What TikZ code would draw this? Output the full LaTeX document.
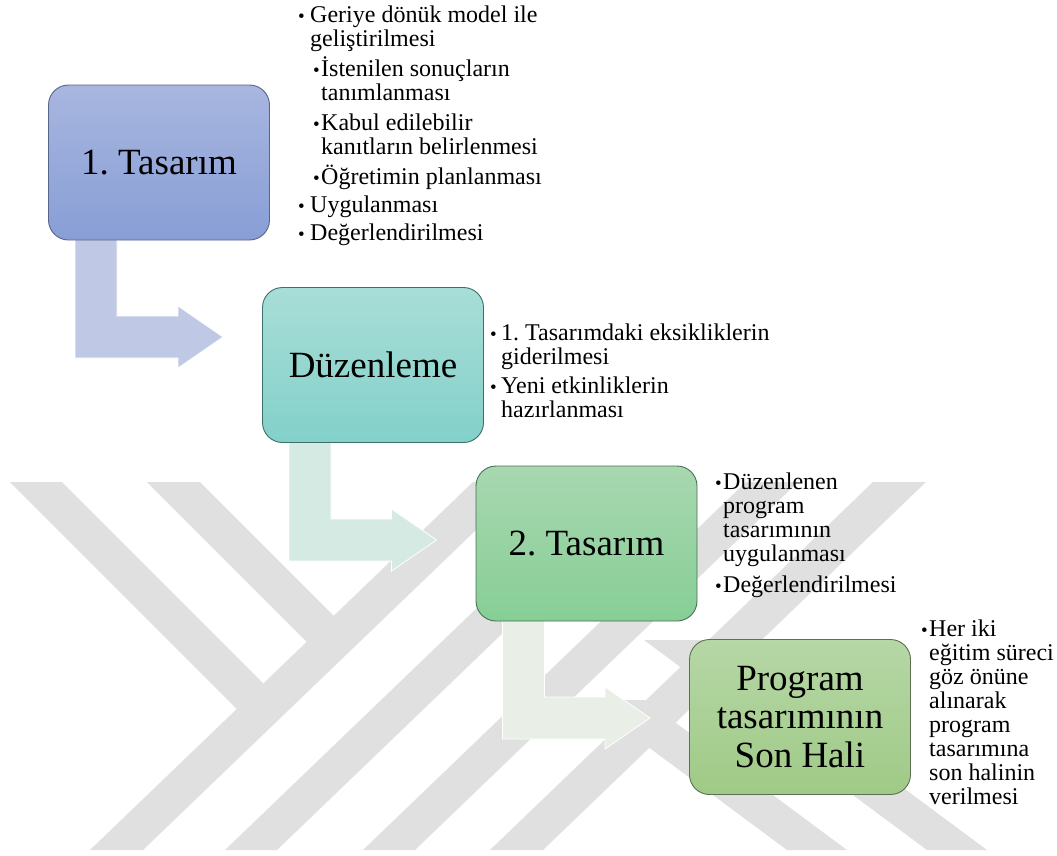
\documentclass[tikz,border=0pt]{standalone}
\usepackage{fontspec}
\setmainfont{Liberation Serif}
\usetikzlibrary{calc}

\definecolor{wmgray}{RGB}{224,224,224}
\definecolor{boxAtop}{RGB}{168,182,223}
\definecolor{boxAbot}{RGB}{136,158,214}
\definecolor{boxAline}{RGB}{88,102,140}
\definecolor{boxBtop}{RGB}{168,222,215}
\definecolor{boxBbot}{RGB}{131,208,202}
\definecolor{boxBline}{RGB}{62,112,106}
\definecolor{boxCtop}{RGB}{168,215,176}
\definecolor{boxCbot}{RGB}{135,206,150}
\definecolor{boxCline}{RGB}{72,112,82}
\definecolor{boxDtop}{RGB}{182,215,166}
\definecolor{boxDbot}{RGB}{160,202,135}
\definecolor{boxDline}{RGB}{92,112,82}
\definecolor{arrA}{RGB}{191,201,230}
\definecolor{arrB}{RGB}{213,234,227}
\definecolor{arrC}{RGB}{233,239,231}

\pgfdeclarelayer{wm}
\pgfdeclarelayer{arrows}
\pgfsetlayers{wm,arrows,main}

% bent block arrow from the bottom of one box to the left side of the next;
% #4 = vertical offset of the tip above the target centre
\newcommand{\flowarrow}[4]{%
  \filldraw[fill=#3, draw=white, line width=0.8pt]
    let \p1=(#1.south west), \p2=(#2.west) in
    ({\x1+27pt},{\y1+2pt}) -- ({\x1+69pt},{\y1+2pt})
    -- ({\x1+69pt},{\y2+(#4)+21pt}) -- ({\x2-84pt},{\y2+(#4)+21pt})
    -- ({\x2-84pt},{\y2+(#4)+31pt}) -- ({\x2-39pt},{\y2+(#4)})
    -- ({\x2-84pt},{\y2+(#4)-31pt}) -- ({\x2-84pt},{\y2+(#4)-21pt})
    -- ({\x1+27pt},{\y2+(#4)-21pt}) -- cycle;}

\begin{document}
\frenchspacing
\begin{tikzpicture}[x=1pt,y=-1pt,
  stepbox/.style={line width=0.9pt, rounded corners=20pt,
    minimum width=221pt, minimum height=155pt, inner sep=0pt,
    align=center, font=\fontsize{37}{38.5}\selectfont},
  % multi-line notes are placed by the baseline of their last line
  itemtext/.style={anchor=base west, inner sep=0pt, align=left,
    font=\fontsize{24}{24}\selectfont},
  bullet/.style={anchor=base west, inner sep=0pt,
    font=\fontsize{19}{19}\selectfont},
  wmstripe/.style={fill=wmgray}]

\useasboundingbox (0,0) rectangle (1057,855);

% faint striped emblem in the background
\begin{pgfonlayer}{wm}
\fill[white] (0,0) rectangle (1057,855);
\fill[wmstripe] (10,482) -- (62,482) -- (289,709) -- (237,709) -- cycle;
\fill[wmstripe] (147,482) -- (200,482) -- (360,642) -- (307,642) -- cycle;
\fill[wmstripe] (473,482) -- (526,482) -- (143,850) -- (90,850) -- cycle;
\fill[wmstripe] (608,482) -- (660,482) -- (277,850) -- (225,850) -- cycle;
\fill[wmstripe] (746,482) -- (798,482) -- (415,850) -- (363,850) -- cycle;
\fill[wmstripe] (873,482) -- (926,482) -- (543,850) -- (490,850) -- cycle;
\fill[wmstripe] (585,700) -- (645,700) -- (847,850) -- (787,850) -- cycle;
\fill[wmstripe] (644,640) -- (704,640) -- (987,850) -- (927,850) -- cycle;
\end{pgfonlayer}

% process steps
\node[stepbox, draw=boxAline, top color=boxAtop, bottom color=boxAbot]
  (b1) at (159,162.5) {1. Tasarım};
\node[stepbox, draw=boxBline, top color=boxBtop, bottom color=boxBbot]
  (b2) at (373,365) {Düzenleme};
\node[stepbox, draw=boxCline, top color=boxCtop, bottom color=boxCbot]
  (b3) at (586.5,543.5) {2. Tasarım};
\node[stepbox, draw=boxDline, top color=boxDtop, bottom color=boxDbot]
  (b4) at (800,717) {Program\\tasarımının\\Son Hali};

% connectors
\begin{pgfonlayer}{arrows}
\flowarrow{b1}{b2}{arrA}{28pt}
\flowarrow{b2}{b3}{arrB}{3.5pt}
\flowarrow{b3}{b4}{arrC}{-1pt}
\end{pgfonlayer}

% notes of step 1
\node[bullet] (t1b) at (298,22) {•};
\node[itemtext] (t1) at (310,46) {Geriye dönük model ile\\geliştirilmesi};
\node[bullet] (t2b) at (313,76) {•};
\node[itemtext] (t2) at (321,100) {İstenilen sonuçların\\tanımlanması};
\node[bullet] (t3b) at (313,130) {•};
\node[itemtext] (t3) at (321,154) {Kabul edilebilir\\kanıtların belirlenmesi};
\node[bullet] (t4b) at (313,184) {•};
\node[itemtext] (t4) at (321,184) {Öğretimin planlanması};
\node[bullet] (t5b) at (298,212) {•};
\node[itemtext] (t5) at (310,212) {Uygulanması};
\node[bullet] (t6b) at (298,240) {•};
\node[itemtext] (t6) at (310,240) {Değerlendirilmesi};

% notes of the revision step
\node[bullet] (d1b) at (490,340) {•};
\node[itemtext] (d1) at (501,364) {1. Tasarımdaki eksikliklerin\\giderilmesi};
\node[bullet] (d2b) at (490,393) {•};
\node[itemtext] (d2) at (501,417) {Yeni etkinliklerin\\hazırlanması};

% notes of step 2
\node[bullet] (s1b) at (715,489) {•};
\node[itemtext] (s1) at (723,561) {Düzenlenen\\program\\tasarımının\\uygulanması};
\node[bullet] (s2b) at (715,592) {•};
\node[itemtext] (s2) at (723,592) {Değerlendirilmesi};

% notes of the final step
\node[bullet] (f1b) at (921,636) {•};
\node[itemtext] (f1) at (929,804) {Her iki\\eğitim süreci\\göz önüne\\alınarak\\program\\tasarımına\\son halinin\\verilmesi};

\end{tikzpicture}
\end{document}
